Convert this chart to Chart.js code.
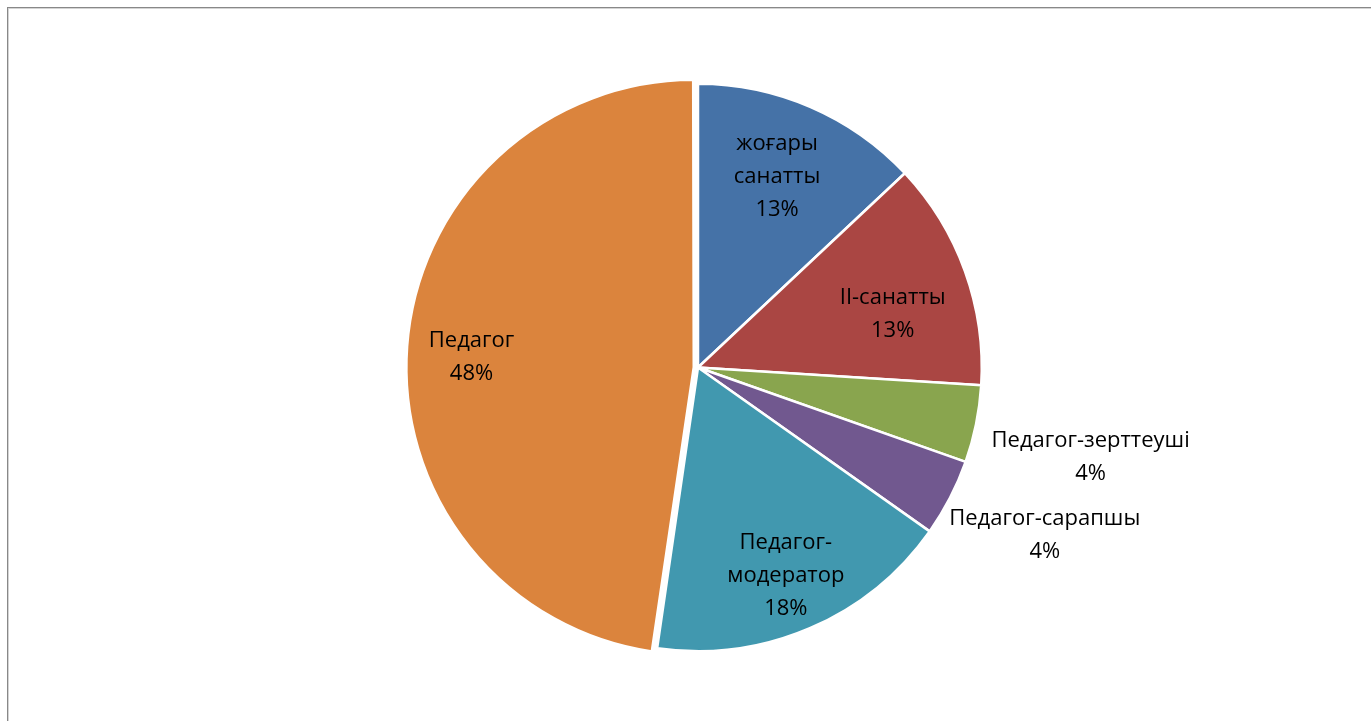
<!DOCTYPE html>
<html>
<head>
<meta charset="utf-8">
<script src="https://cdn.jsdelivr.net/npm/chart.js@4"></script>
<style>
  html, body { margin: 0; padding: 0; background: #fff; overflow: hidden; }
  #frame {
    position: absolute; left: 7px; top: 7px; width: 1400px; height: 800px;
    border-left: 1px solid #888; border-top: 1px solid #888;
    box-shadow: inset 1px 1px 0 #d4d4d4;
  }
  #chart { position: absolute; left: 0; top: 0; }
</style>
</head>
<body>
<div id="frame"></div>
<canvas id="chart" width="1371" height="721"></canvas>
<script>
  const categories = [
    "жоғары санатты",
    "II-санатты",
    "Педагог-зерттеуші",
    "Педагог-сарапшы",
    "Педагог-модератор",
    "Педагог",
  ];
  const shares = [13, 13, 4.4, 4.4, 17.5, 47.7];
  const colors = ["#4572A7", "#AA4643", "#89A54E", "#71588F", "#4198AF", "#DB843D"];

  // label placement: share of the radius, turn from the slice middle (deg), wrap width
  const labelRadius = [0.728, 0.711, 1.419, 1.357, 0.795, 0.771];
  const labelTurn = [-0.9, 4.6, 1.3, -1.6, 0.3, -1.7];
  const labelWrap = [150, 150, Infinity, Infinity, 150, 150];

  const FONT = "22px 'Open Sans', sans-serif";
  const LINE_H = 33;

  function wrap(ctx, text, maxW) {
    const parts = text.match(/[^\s-]+-?/g) || [text];
    const lines = [];
    let cur = "";
    for (const p of parts) {
      const glue = cur && !cur.endsWith("-") ? " " : "";
      const test = cur + glue + p;
      if (cur && ctx.measureText(test).width > maxW) {
        lines.push(cur);
        cur = p;
      } else {
        cur = test;
      }
    }
    if (cur) lines.push(cur);
    return lines;
  }

  const sliceLabels = {
    id: "sliceLabels",
    afterDatasetsDraw(chart) {
      const ctx = chart.ctx;
      const meta = chart.getDatasetMeta(0);
      const total = shares.reduce((a, b) => a + b, 0);
      ctx.save();
      ctx.font = FONT;
      ctx.fillStyle = "#000";
      ctx.textAlign = "center";
      ctx.textBaseline = "middle";
      meta.data.forEach((arc, i) => {
        const p = arc.getProps(["x", "y", "startAngle", "endAngle", "outerRadius"], true);
        const mid = (p.startAngle + p.endAngle) / 2;
        const shift = (arc.options.offset || 0) * 0.465;
        const cx = p.x + Math.cos(mid) * shift;
        const cy = p.y + Math.sin(mid) * shift;
        const a = mid + (labelTurn[i] * Math.PI) / 180;
        const r = p.outerRadius * labelRadius[i];
        const lx = cx + Math.cos(a) * r;
        const ly = cy + Math.sin(a) * r;
        const pct = Math.round((shares[i] / total) * 100) + "%";
        const lines = wrap(ctx, categories[i], labelWrap[i]).concat([pct]);
        const top = ly - ((lines.length - 1) * LINE_H) / 2;
        lines.forEach((t, k) => ctx.fillText(t, lx, top + k * LINE_H));
      });
      ctx.restore();
    },
  };

  new Chart(document.getElementById("chart"), {
    type: "pie",
    data: {
      labels: categories,
      datasets: [
        {
          data: shares,
          backgroundColor: colors,
          borderColor: "#fff",
          borderWidth: 2.5,
          offset: [0, 0, 0, 0, 0, 17],
        },
      ],
    },
    options: {
      responsive: false,
      animation: false,
      layout: { padding: { left: 25, right: 0, top: 74, bottom: 60 } },
      plugins: {
        legend: { display: false },
        tooltip: { enabled: false },
      },
    },
    plugins: [sliceLabels],
  });
</script>
</body>
</html>
